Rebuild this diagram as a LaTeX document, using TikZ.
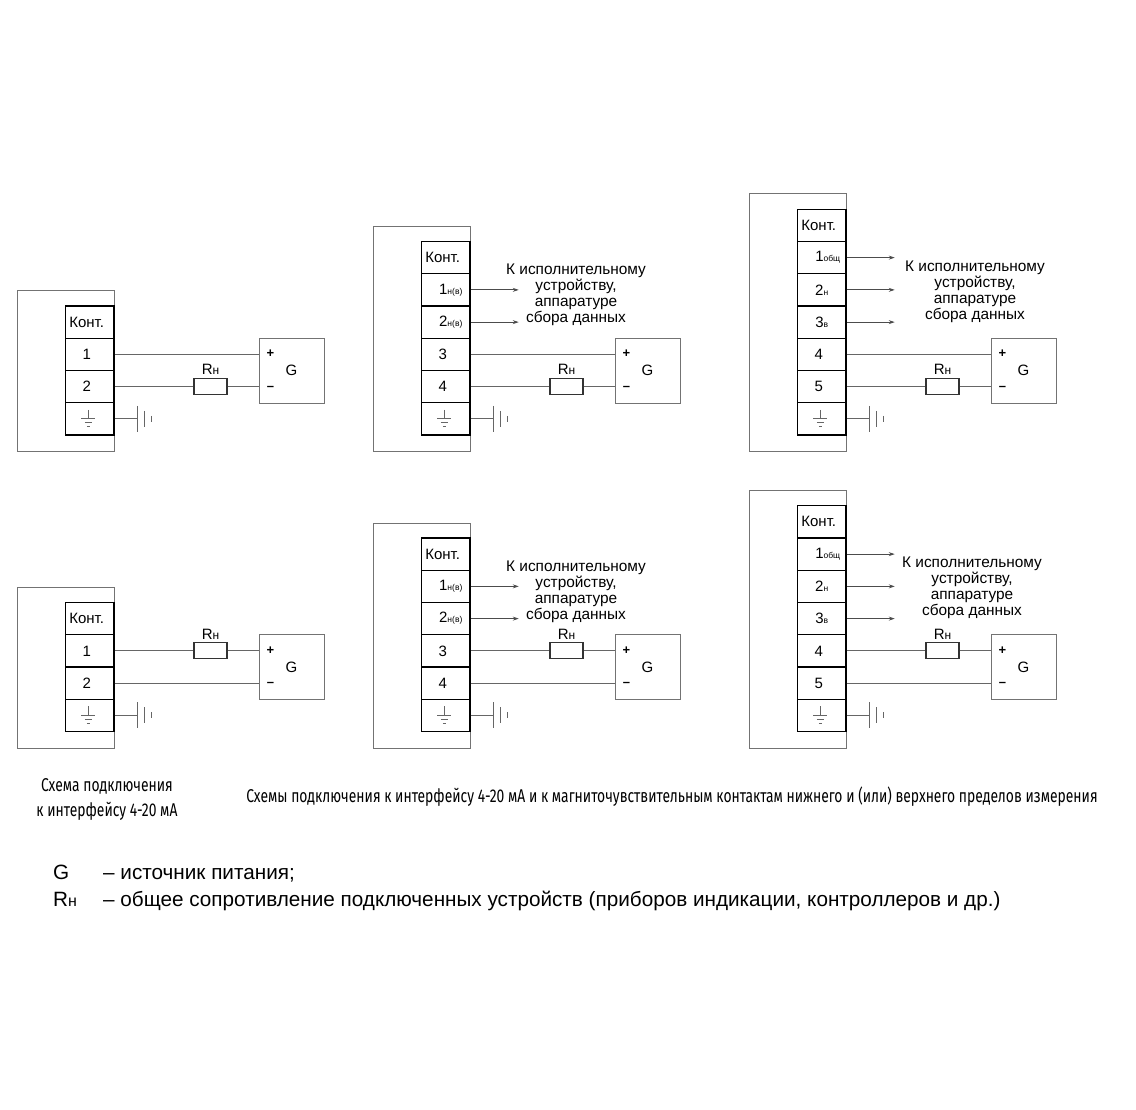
\documentclass[tikz,border=0pt]{standalone}
\usepackage{fontspec}
\setmainfont{Liberation Sans}
\newfontfamily\capfont[FakeStretch=0.75]{Fira Sans}
\usetikzlibrary{arrows.meta,calc}
\newcommand{\rw}[1]{#1\hspace*{6pt}}
\newcommand{\sbl}[2]{\hspace*{#1}#2}
\newcommand{\smn}[1]{{\fontsize{8.5}{9}\selectfont #1}}
\newcommand{\Rn}{R{\fontsize{12}{12}\selectfont н}}
\tikzset{
  frameb/.style={draw=black!55,line width=1pt,fill=white,inner sep=0pt},
  cell/.style={draw=black,line width=1.4pt,fill=white,minimum width=48.5pt,minimum height=32.25pt,inner sep=0pt,font=\fontsize{15}{16}\selectfont},
  wire/.style={draw=black!60,line width=0.9pt},
  arr/.style={draw=black!70,line width=0.8pt,-{Stealth[length=6pt,width=4pt]}},
  gbox/.style={draw=black!55,line width=1pt,minimum size=65pt,inner sep=0pt,font=\fontsize{15}{16}\selectfont},
  res/.style={draw=black!80,line width=1.1pt,fill=white,minimum width=33pt,minimum height=16pt,inner sep=0pt},
  lab/.style={inner sep=0pt,font=\fontsize{15}{16}\selectfont},
  dest/.style={inner sep=0pt,align=center,font=\fontsize{15.4}{16.1}\selectfont},
  sign/.style={inner sep=0pt,font=\bfseries\fontsize{13}{14}\selectfont},
  capt/.style={inner sep=0pt,align=center,font=\capfont\fontsize{18.5}{25}\selectfont},
  legend/.style={inner sep=0pt,anchor=base west,font=\fontsize{20.7}{22}\selectfont},
  earth/.style={draw=black!60,line width=0.8pt},
}
% #1 prefix, #2 x offset, #3 frame top, #4 block top, #5 bottom, #6 rows
\newcommand{\panel}[6]{
  \node[frameb,minimum width=97pt,minimum height={#5+16-#3},anchor=north west] (#1-f) at (#2+17,#3) {};
  \foreach \t [count=\i] in {#6} {
    \node[cell] (#1-\i) at (#2+89.75,{#4+(\i-0.5)*32.25}) {\t};
  }
}
% #1 prefix, #2 index of ground row
\newcommand{\earthing}[2]{
  \coordinate (#1-c) at (#1-#2.center);
  \coordinate (#1-e) at ($(#1-#2.east)+(23,0)$);
  \draw[wire] (#1-#2.east) -- (#1-e);
  \draw[earth] ($(#1-e)+(0,-13)$) -- ($(#1-e)+(0,13)$);
  \draw[earth] ($(#1-e)+(7,-8)$) -- ($(#1-e)+(7,8)$);
  \draw[earth] ($(#1-e)+(14,-3)$) -- ($(#1-e)+(14,3)$);
  \draw[earth] ($(#1-c)+(-1.5,-9)$) -- ($(#1-c)+(-1.5,0)$);
  \draw[earth] ($(#1-c)+(-8.5,0)$) -- ($(#1-c)+(5.5,0)$);
  \draw[earth] ($(#1-c)+(-5,4)$) -- ($(#1-c)+(2,4)$);
  \draw[earth] ($(#1-c)+(-3,8)$) -- ($(#1-c)+(0,8)$);
}
% #1 prefix, #2 x offset, #3 G centre y, #4 upper row, #5 lower row, #6 row with load
\newcommand{\circuit}[6]{
  \node[gbox] (#1-g) at (#2+291.5,#3) {G};
  \node[sign] (#1-p) at (#2+270.5,#3-16.5) {+};
  \node[sign] (#1-m) at (#2+270.5,#3+17.5) {–};
  \draw[wire] (#1-#4.east) -- (#1-#4.east -| #1-g.west);
  \draw[wire] (#1-#5.east) -- (#1-#5.east -| #1-g.west);
  \node[res] (#1-r) at (#2+210.5,0 |- #1-#6.east) {};
  \node[lab,above=3pt] (#1-rl) at (#1-r.north) {\Rn};
}
% #1 prefix, #2 first row, #3 last row
\newcommand{\outs}[3]{
  \foreach \i in {#2,...,#3} {
    \coordinate (#1-o\i) at ($(#1-\i.east)+(48,0)$);
    \draw[arr] (#1-\i.east) -- (#1-o\i);
  }
}
\begin{document}
\begin{tikzpicture}[x=1pt,y=-1pt]
\useasboundingbox (0,0) rectangle (1136,1110);
\fill[white] (0,0) rectangle (1136,1110);
% Row 1
\panel{a}{0}{290}{306}{435}{{\rw{Конт.}},{\rw{1}},{\rw{2}},{}}
\circuit{a}{0}{370.5}{2}{3}{3}
\earthing{a}{4}
\panel{b}{356}{226}{241.5}{435}{{\rw{Конт.}},{\sbl{10pt}{1\smn{н(в)}}},{\sbl{10pt}{2\smn{н(в)}}},{\rw{3}},{\rw{4}},{}}
\circuit{b}{356}{370.5}{4}{5}{5}
\earthing{b}{6}
\outs{b}{2}{3}
\node[dest] (b-t) at (576,295) {К исполнительному\\устройству,\\аппаратуре\\сбора данных};
\panel{c}{732}{193}{209.25}{435}{{\rw{Конт.}},{\sbl{12pt}{1\smn{общ}}},{2\smn{н}},{3\smn{в}},{\rw{4}},{\rw{5}},{}}
\circuit{c}{732}{370.5}{5}{6}{6}
\earthing{c}{7}
\outs{c}{2}{4}
\node[dest] (c-t) at (975,291.5) {К исполнительному\\устройству,\\аппаратуре\\сбора данных};
% Row 2
\panel{d}{0}{586.5}{602.5}{732}{{\rw{Конт.}},{\rw{1}},{\rw{2}},{}}
\circuit{d}{0}{667}{2}{3}{2}
\earthing{d}{4}
\panel{e}{356}{522.5}{538}{732}{{\rw{Конт.}},{\sbl{10pt}{1\smn{н(в)}}},{\sbl{10pt}{2\smn{н(в)}}},{\rw{3}},{\rw{4}},{}}
\circuit{e}{356}{667}{4}{5}{4}
\earthing{e}{6}
\outs{e}{2}{3}
\node[dest] (e-t) at (576,592) {К исполнительному\\устройству,\\аппаратуре\\сбора данных};
\panel{f}{732}{490}{505.75}{732}{{\rw{Конт.}},{\sbl{12pt}{1\smn{общ}}},{2\smn{н}},{3\smn{в}},{\rw{4}},{\rw{5}},{}}
\circuit{f}{732}{667}{5}{6}{5}
\earthing{f}{7}
\outs{f}{2}{4}
\node[dest] (f-t) at (972,588) {К исполнительному\\устройству,\\аппаратуре\\сбора данных};
% Captions
\node[capt] (cap1) at (107,799.5) {Схема подключения\\к интерфейсу 4-20 мА};
\node[capt] (cap2) at (672,797) {Схемы подключения к интерфейсу 4-20 мА и к магниточувствительным контактам нижнего и (или) верхнего пределов измерения};
% Legend
\node[legend] (l1) at (53,879) {G};
\node[legend] (l2) at (103,879) {– источник питания;};
\node[legend] (l3) at (53,906) {R{\fontsize{16}{16}\selectfont н}};
\node[legend] (l4) at (103,906) {– общее сопротивление подключенных устройств (приборов индикации, контроллеров и др.)};
\end{tikzpicture}
\end{document}
